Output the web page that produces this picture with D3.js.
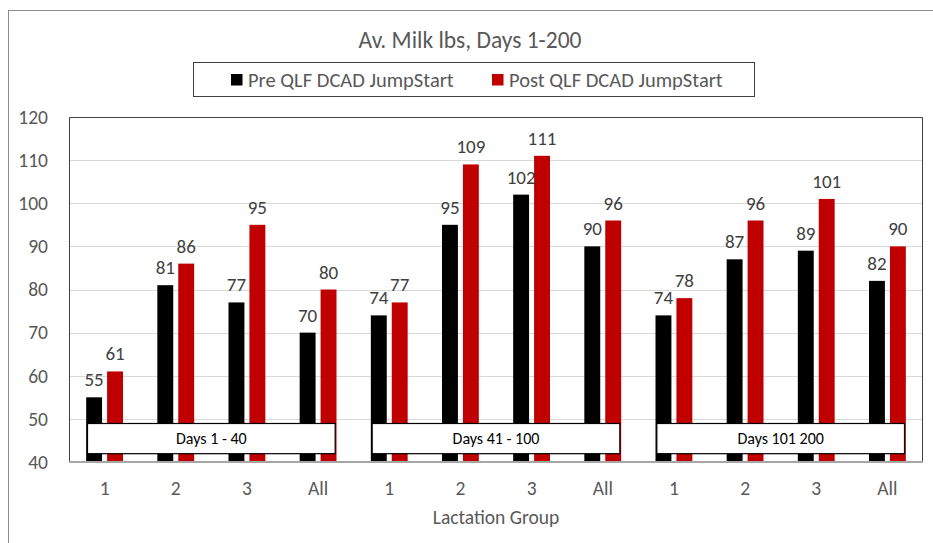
<!DOCTYPE html>
<html>
<head>
<meta charset="utf-8">
<script src="https://cdn.jsdelivr.net/npm/d3@7"></script>
<style>
  body { margin: 0; background: #fff; }
  text { font-family: Carlito, Lato, "Open Sans", sans-serif; }
</style>
</head>
<body>
<svg id="chart" width="933" height="543"></svg>
<script>
const categories = ["1", "2", "3", "All", "1", "2", "3", "All", "1", "2", "3", "All"];
const seriesNames = ["Pre QLF DCAD JumpStart", "Post QLF DCAD JumpStart"];
const seriesColors = ["#000000", "#C00000"];
const preValues = [55, 81, 77, 70, 74, 95, 102, 90, 74, 87, 89, 82];
const postValues = [61, 86, 95, 80, 77, 109, 111, 96, 78, 96, 101, 90];
const yTicks = [40, 50, 60, 70, 80, 90, 100, 110, 120];
const periodLabels = ["Days 1 - 40", "Days 41 - 100", "Days 101 200"];
const periodRanges = [[0, 3], [4, 7], [8, 11]];

const svg = d3.select("#chart");

const margin = { top: 117, right: 10, bottom: 81, left: 69 };
const width = +svg.attr("width") - margin.left - margin.right;
const height = +svg.attr("height") - margin.top - margin.bottom;

// outer chart border
svg.append("rect")
  .attr("x", 8.5)
  .attr("y", 10.5)
  .attr("width", 960)
  .attr("height", 600)
  .attr("fill", "none")
  .attr("stroke", "#8c8c8c")
  .attr("stroke-width", 1);

const g = svg.append("g")
  .attr("transform", `translate(${margin.left},${margin.top})`);

const x0 = d3.scaleBand()
  .domain(d3.range(categories.length))
  .range([0, width])
  .padding(0);

const x1 = d3.scaleBand()
  .domain([0, 1])
  .range([0, x0.bandwidth()])
  .paddingInner(0.24)
  .paddingOuter(0.82);

const y = d3.scaleLinear()
  .domain([40, 120])
  .range([height, 0]);

// gridlines
g.selectAll(".grid")
  .data(yTicks.slice(1, -1))
  .enter()
  .append("line")
  .attr("x1", 0)
  .attr("x2", width)
  .attr("y1", (d) => Math.round(y(d)) + 0.5)
  .attr("y2", (d) => Math.round(y(d)) + 0.5)
  .attr("stroke", "#d9d9d9")
  .attr("stroke-width", 1);

// y labels
g.selectAll(".ylab")
  .data(yTicks)
  .enter()
  .append("text")
  .attr("x", -21)
  .attr("y", (d) => y(d))
  .attr("dy", "0.35em")
  .attr("text-anchor", "end")
  .attr("font-size", "19.5px")
  .attr("fill", "#595959")
  .text((d) => d);

const allSeries = [preValues, postValues];

const barData = [];
allSeries.forEach((vals, s) => {
  vals.forEach((v, i) => barData.push({ s, i, v }));
});

g.selectAll(".bar")
  .data(barData)
  .enter()
  .append("rect")
  .attr("x", (d) => x0(d.i) + x1(d.s))
  .attr("y", (d) => y(d.v))
  .attr("width", x1.bandwidth())
  .attr("height", (d) => height - y(d.v))
  .attr("fill", (d) => seriesColors[d.s]);

g.selectAll(".valueLabel")
  .data(barData)
  .enter()
  .append("text")
  .attr("x", (d) => x0(d.i) + x1(d.s) + x1.bandwidth() / 2)
  .attr("y", (d) => y(d.v) - 11)
  .attr("text-anchor", "middle")
  .attr("font-size", "19px")
  .attr("fill", "#404040")
  .text((d) => d.v);

// period boxes
const periods = g.selectAll(".period")
  .data(periodLabels)
  .enter()
  .append("g");

periods.append("rect")
  .attr("x", (d, i) => x0(periodRanges[i][0]) + 18.5)
  .attr("y", Math.round(y(49)) + 0.5)
  .attr("width", (d, i) => x0(periodRanges[i][1]) + x0.bandwidth() - x0(periodRanges[i][0]) - 37)
  .attr("height", y(42) - y(49))
  .attr("fill", "#ffffff")
  .attr("stroke", "#000000")
  .attr("stroke-width", 1.2);

periods.append("text")
  .attr("x", (d, i) => (x0(periodRanges[i][0]) + x0(periodRanges[i][1]) + x0.bandwidth()) / 2)
  .attr("y", y(45.5))
  .attr("dy", "0.35em")
  .attr("text-anchor", "middle")
  .attr("font-size", "16px")
  .attr("fill", "#000000")
  .text((d) => d);

// plot border
g.append("path")
  .attr("d", `M0.5,${height}V0.5H${width - 0.5}V${height}`)
  .attr("fill", "none")
  .attr("stroke", "#404040")
  .attr("stroke-width", 1);

g.append("line")
  .attr("x1", 0)
  .attr("x2", width)
  .attr("y1", height)
  .attr("y2", height)
  .attr("stroke", "#a6a6a6")
  .attr("stroke-width", 2);

// x labels
g.selectAll(".xlab")
  .data(categories)
  .enter()
  .append("text")
  .attr("x", (d, i) => x0(i) + x0.bandwidth() / 2)
  .attr("y", height + 26)
  .attr("dy", "0.35em")
  .attr("text-anchor", "middle")
  .attr("font-size", "19.5px")
  .attr("fill", "#595959")
  .text((d) => d);

g.append("text")
  .attr("x", width / 2)
  .attr("y", height + 55)
  .attr("dy", "0.35em")
  .attr("text-anchor", "middle")
  .attr("font-size", "19.5px")
  .attr("fill", "#595959")
  .text("Lactation Group");

// title
svg.append("text")
  .attr("x", 470)
  .attr("y", 40)
  .attr("dy", "0.35em")
  .attr("text-anchor", "middle")
  .attr("font-size", "23.5px")
  .attr("fill", "#595959")
  .text("Av. Milk lbs, Days 1-200");

// legend
svg.append("rect")
  .attr("x", 193.5)
  .attr("y", 62.5)
  .attr("width", 561)
  .attr("height", 34)
  .attr("fill", "#ffffff")
  .attr("stroke", "#404040")
  .attr("stroke-width", 1);

const legendX = [231, 492];
const legend = svg.selectAll(".legend")
  .data(seriesNames)
  .enter()
  .append("g")
  .attr("transform", (d, i) => `translate(${legendX[i]},80)`);

legend.append("rect")
  .attr("x", 0)
  .attr("y", -6)
  .attr("width", 11.5)
  .attr("height", 11.5)
  .attr("fill", (d, i) => seriesColors[i]);

legend.append("text")
  .attr("x", 17)
  .attr("y", 0)
  .attr("dy", "0.35em")
  .attr("font-size", "20.5px")
  .attr("fill", "#595959")
  .text((d) => d);
</script>
</body>
</html>
